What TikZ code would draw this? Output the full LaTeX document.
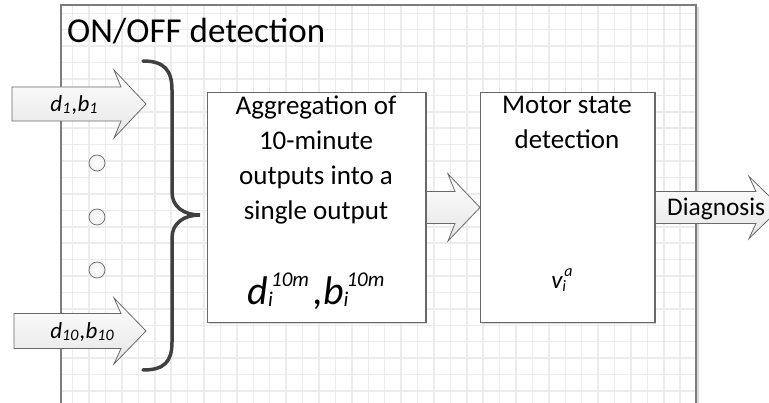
\documentclass[tikz,border=0pt]{standalone}
\usepackage{fontspec}
\setmainfont{Carlito}
\usetikzlibrary{calc}
\definecolor{gridc}{RGB}{236,236,236}
\definecolor{framec}{RGB}{125,125,125}
\definecolor{edgec}{RGB}{105,105,105}
\definecolor{bracec}{RGB}{64,64,64}
\definecolor{shadowc}{RGB}{215,215,215}
\tikzset{
  gridline/.style={draw=gridc, line width=1.5pt},
  framestyle/.style={draw=framec, line width=1.1pt},
  boxstyle/.style={draw=edgec, line width=1pt, fill=white, inner sep=0pt},
  arrowbox/.style={draw=edgec, line width=0.8pt, top color=white, bottom color=black!10, line join=miter},
  arrshadow/.style={fill=shadowc},
  dotstyle/.style={circle, draw=edgec, line width=0.7pt, inner color=white, outer color=black!6, minimum size=16pt, inner sep=0pt},
  bracestyle/.style={draw=bracec, line width=3.5pt, line cap=round},
  boxtext/.style={font=\fontsize{27}{35}\selectfont, align=center, inner sep=0pt},
  arrtext/.style={font=\fontsize{23}{26}\selectfont\itshape, inner sep=0pt},
}
\newcommand\blockarrow[4]{%
  \begin{scope}[shift={(2,2)}]
    \fill[arrshadow] ($(#1)+(0,-#3)$) -- ($(#2)+(-25,-#3)$) -- ($(#2)+(-32,-#4)$) -- (#2) -- ($(#2)+(-32,#4)$) -- ($(#2)+(-25,#3)$) -- ($(#1)+(0,#3)$) -- cycle;
  \end{scope}
  \draw[arrowbox] ($(#1)+(0,-#3)$) -- ($(#2)+(-25,-#3)$) -- ($(#2)+(-32,-#4)$) -- (#2) -- ($(#2)+(-32,#4)$) -- ($(#2)+(-25,#3)$) -- ($(#1)+(0,#3)$) -- cycle;%
}
\newcommand\arrsub[1]{\raisebox{-2.5pt}{\fontsize{16}{16}\selectfont #1}}
\begin{document}
\begin{tikzpicture}[x=1pt, y=-1pt]
\clip (0,0) rectangle (769,403);
\fill[white] (0,0) rectangle (769,403);
% grid inside frame
\foreach \k in {0,...,37} { \draw[gridline] (72.7+16.42*\k,5) -- (72.7+16.42*\k,403); }
\foreach \k in {0,...,23} { \draw[gridline] (61,13.3+16.42*\k) -- (696,13.3+16.42*\k); }
% frame
\draw[draw=shadowc, line width=2pt] (698,7) -- (698,403);
\draw[framestyle] (61,410) -- (61,5) -- (696,5) -- (696,410);
\node[anchor=base west, font=\fontsize{35}{40}\selectfont, inner sep=0pt] (title) at (67,43) {ON/OFF detection};

% input arrows
\coordinate (in1tail) at (12,104);
\coordinate (in1tip) at (146,104);
\coordinate (in2tail) at (14,331);
\coordinate (in2tip) at (146,331);
\blockarrow{in1tail}{in1tip}{17}{34}
\blockarrow{in2tail}{in2tip}{17.5}{33}
\node[arrtext, anchor=base] (in1lbl) at (74,111.5) {d\arrsub{1}\kern1.5pt,b\arrsub{1}};
\node[arrtext, anchor=base] (in2lbl) at (82,338.5) {d\arrsub{10}\kern1.5pt,b\arrsub{10}};

% dots
\node[dotstyle] (c1) at (97,163) {};
\node[dotstyle] (c2) at (97,217) {};
\node[dotstyle] (c3) at (97,270) {};

% brace
\coordinate (bracetip) at (200,215);
\draw[bracestyle] (143,61) .. controls (164,61) and (172,70) .. (172,90) -- (172,192)
  .. controls (172,207) and (184,215) .. (bracetip)
  .. controls (184,215) and (172,223) .. (172,238) -- (172,342)
  .. controls (172,362) and (164,370) .. (143,370);

% boxes
\coordinate (aggnw) at (207,92);
\coordinate (motnw) at (480,92);
\fill[shadowc] (209,94) rectangle (427,324);
\fill[shadowc] (482,94) rectangle (656,324);
\node[boxstyle, minimum width=218pt, minimum height=230pt, anchor=north west] (agg) at (aggnw) {};
\node[boxstyle, minimum width=174pt, minimum height=230pt, anchor=north west] (motor) at (motnw) {};
\coordinate (midtail) at (agg.east |- 0,207.5);
\coordinate (midtip) at (motor.west |- 0,207.5);
\coordinate (outtail) at (motor.east |- 0,207.5);
\coordinate (outtip) at (781,207.5);
\blockarrow{midtail}{midtip}{16}{33.5}
\blockarrow{outtail}{outtip}{16}{31}
\draw[draw=edgec, line width=1pt] (agg.north east) -- (agg.south east);
\draw[draw=edgec, line width=1pt] (motor.north east) -- (motor.south east);
\draw[draw=edgec, line width=1pt] (motor.north west) -- (motor.south west);

\node[anchor=base west, font=\fontsize{25.4}{30}\selectfont, inner sep=0pt] (diag) at (667,215.5) {Diagnosis};

% box texts
\node[boxtext, anchor=north] (aggtxt) at (316,96) {Aggregation of\\10-minute\\outputs into a\\single output};
\node[boxtext, anchor=north] (mottxt) at (567,96) {Motor state\\detection};
\node[anchor=base, inner sep=0pt, font=\fontsize{40}{44}\selectfont\itshape] (aggf) at (316,305)
  {d\rlap{\raisebox{-2pt}{\fontsize{21}{21}\selectfont i}}\kern3pt\raisebox{18pt}{\fontsize{21}{21}\selectfont 10m}\kern4pt,b\rlap{\raisebox{-2pt}{\fontsize{21}{21}\selectfont i}}\kern3pt\raisebox{18pt}{\fontsize{21}{21}\selectfont 10m}};
\node[anchor=base, inner sep=0pt, font=\fontsize{25}{28}\selectfont\itshape] (motf) at (562,289)
  {v\rlap{\raisebox{-3pt}{\fontsize{16}{16}\selectfont i}}\kern2pt\raisebox{12pt}{\fontsize{16}{16}\selectfont a}};
\end{tikzpicture}
\end{document}
